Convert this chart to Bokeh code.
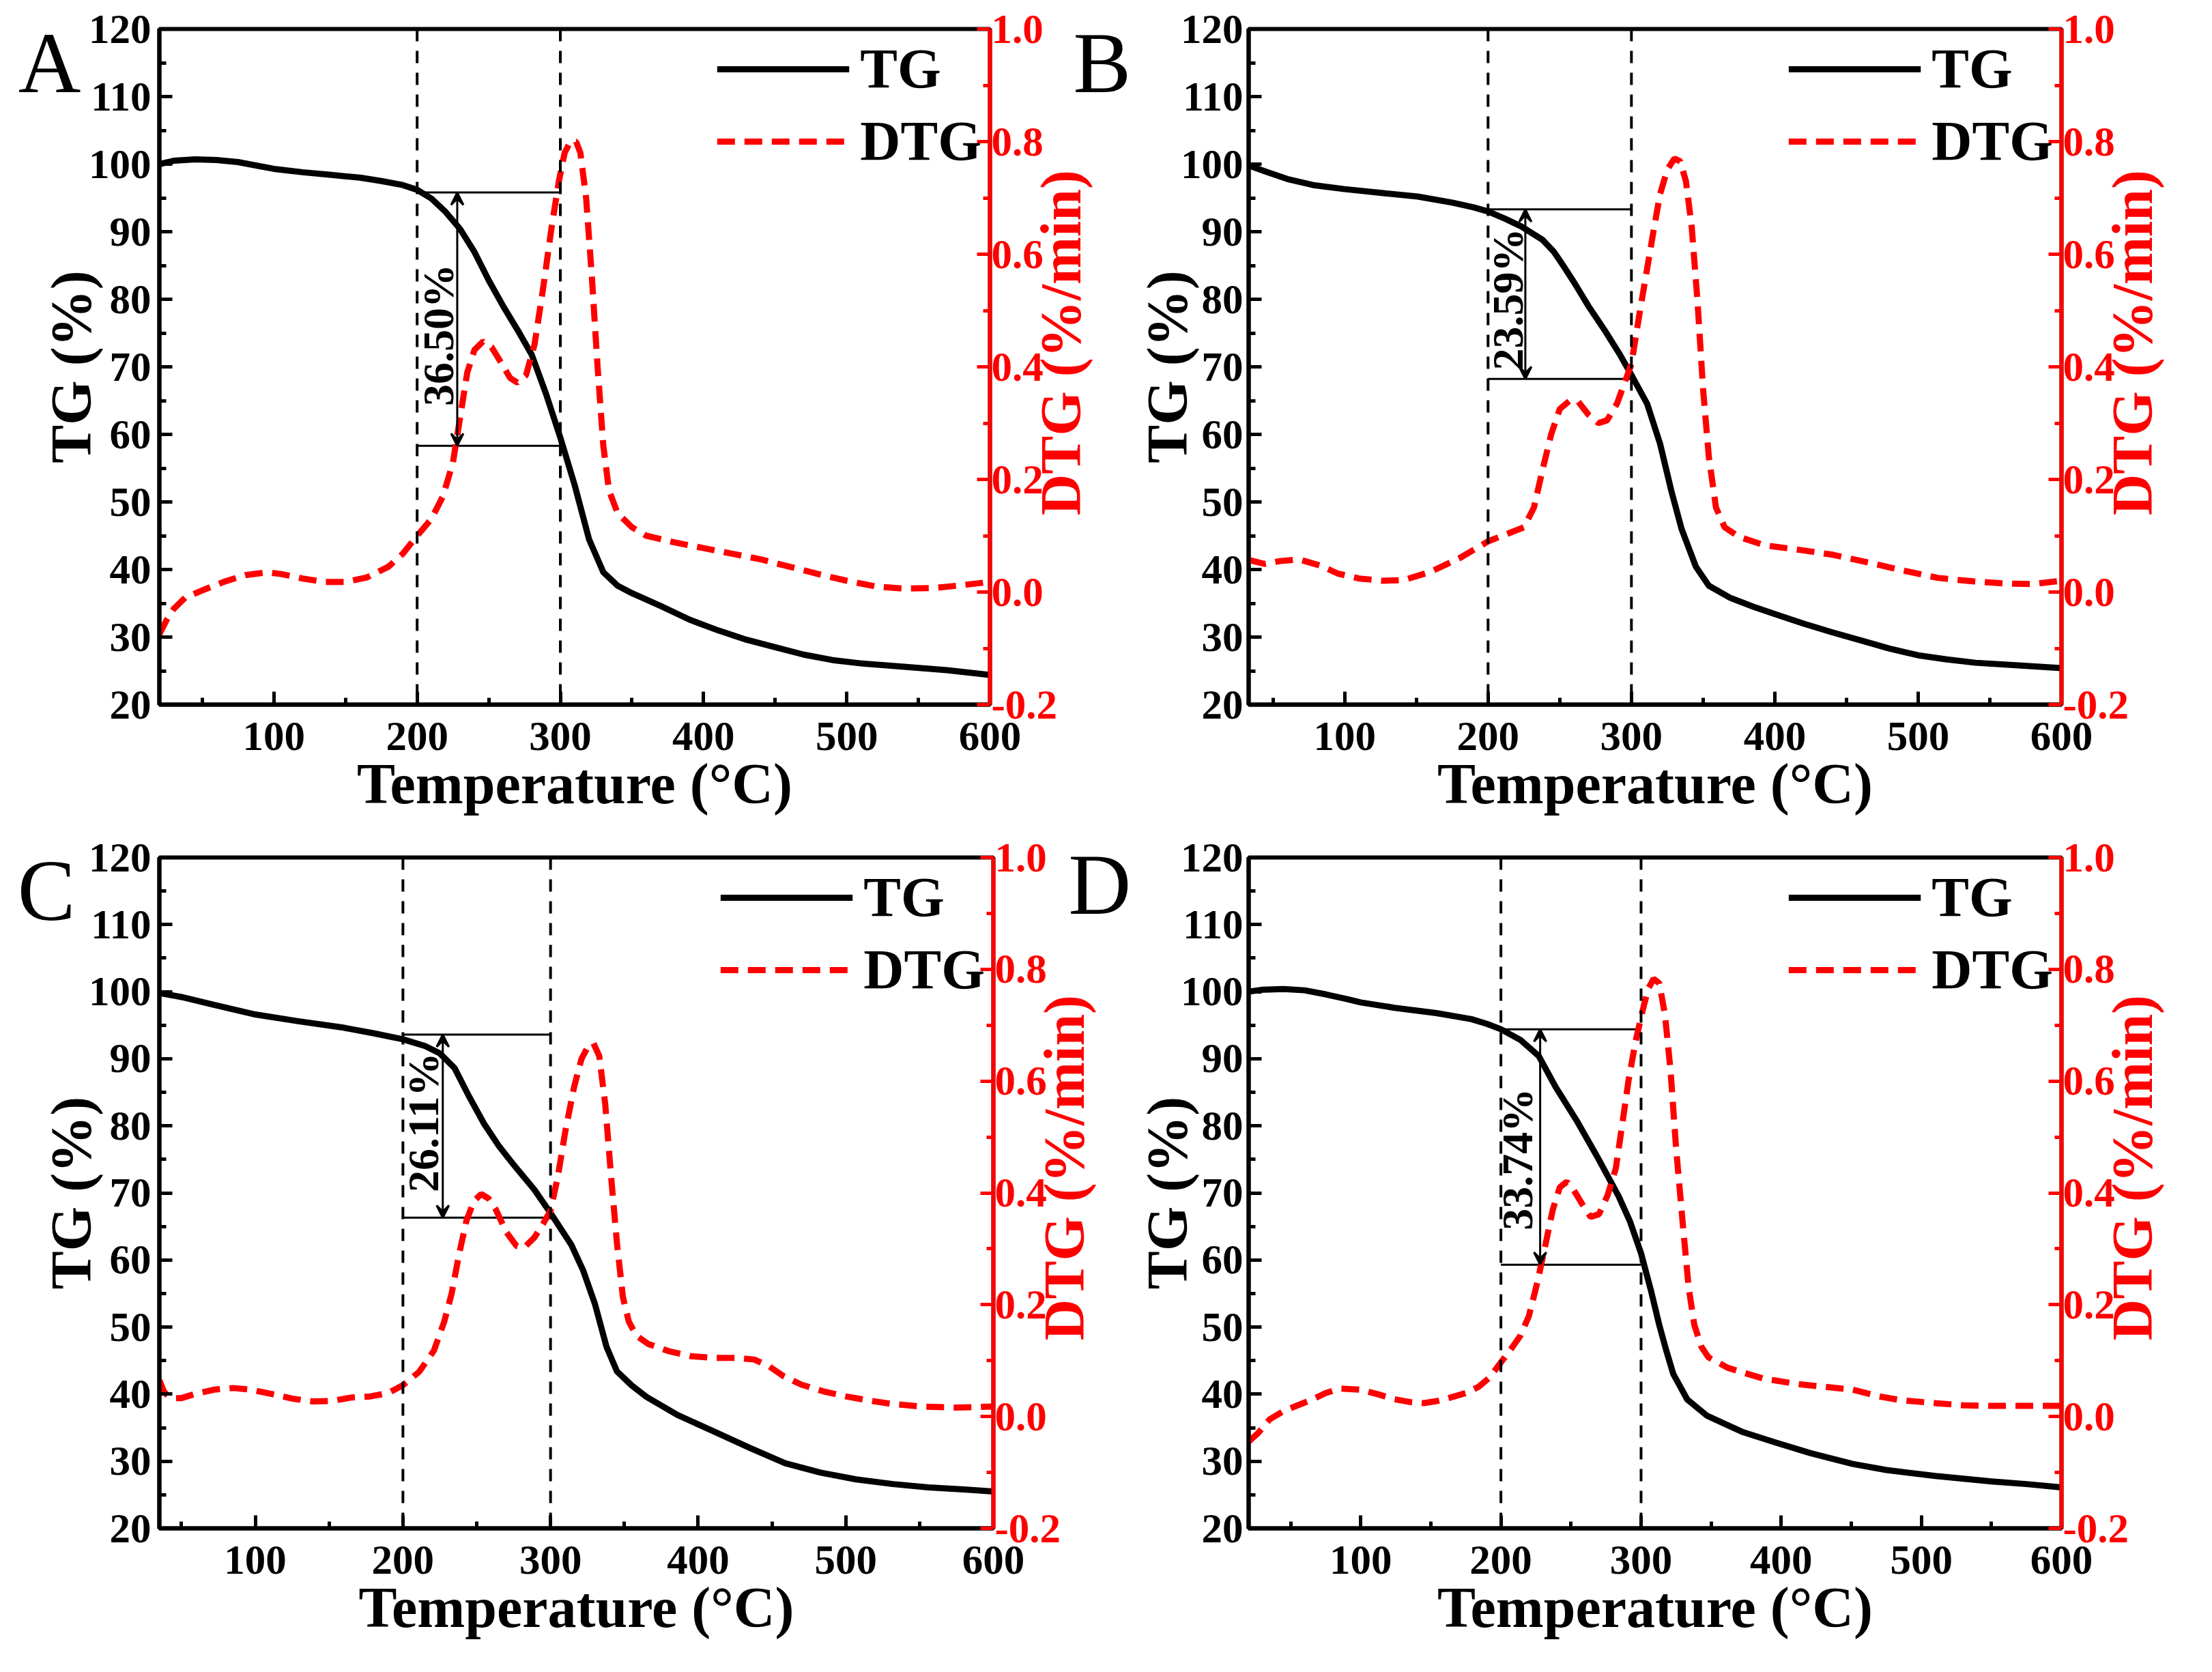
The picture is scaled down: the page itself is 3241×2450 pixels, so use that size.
import math
from bokeh.plotting import figure
from bokeh.models import (Range1d, LinearAxis, FixedTicker, PrintfTickFormatter, Span,
                          Arrow, VeeHead, Legend, LegendItem)
from bokeh.layouts import column, row
from bokeh.embed import file_html
from bokeh.resources import INLINE
from bokeh.core.properties import value

FONT = "Liberation Serif"
RED = "#FF0000"

# ---------------- data ----------------
x_ticks = [100, 200, 300, 400, 500, 600]
x_minor = [50, 150, 250, 350, 450, 550]
tg_ticks = [20, 30, 40, 50, 60, 70, 80, 90, 100, 110, 120]
tg_minor = [25, 35, 45, 55, 65, 75, 85, 95, 105, 115]
dtg_ticks = [-0.2, 0.0, 0.2, 0.4, 0.6, 0.8, 1.0]
dtg_minor = [-0.1, 0.1, 0.3, 0.5, 0.7, 0.9]
region = [200, 300]

panels = ["A", "B", "C", "D"]
x_start = [20, 33, 35, 20]
step_upper = [95.8, 93.3, 93.6, 94.4]
step_lower = [58.3, 68.2, 66.3, 59.3]
arrow_x = [228, 226, 227, 228]
loss_text = ["36.50%", "23.59%", "26.11%", "33.74%"]
loss_x = [215, 214, 214, 212]
loss_y = [74.7, 80.0, 80.5, 75.0]

tA_tg = [20, 30, 45, 60, 75, 90, 100, 120, 140, 160, 175, 190, 200, 210, 220, 230, 240, 250, 260, 270,
         280, 290, 300, 310, 320, 330, 340, 350, 370, 390, 410, 430, 450, 470, 490, 510, 540, 570, 600]
tgA = [100.0, 100.5, 100.7, 100.6, 100.3, 99.7, 99.3, 98.8, 98.4, 98.0, 97.5, 96.9, 96.2, 94.9, 92.9,
       90.4, 87.0, 82.8, 79.0, 75.5, 71.8, 66.0, 59.5, 52.5, 44.5, 39.6, 37.6, 36.5, 34.6, 32.6, 31.0,
       29.6, 28.5, 27.4, 26.6, 26.1, 25.6, 25.1, 24.4]
tA_dtg = [20, 25, 30, 38, 50, 65, 80, 95, 105, 120, 135, 150, 165, 180, 190, 200, 210, 218, 225, 230,
          235, 240, 246, 252, 258, 265, 270, 276, 282, 288, 294, 299, 303, 307, 311, 314, 318, 322, 326,
          330, 334, 340, 350, 360, 380, 400, 420, 440, 460, 480, 500, 520, 540, 560, 580, 600]
dtgA = [-0.075, -0.05, -0.03, -0.01, 0.003, 0.018, 0.03, 0.035, 0.032, 0.024, 0.018, 0.018, 0.026, 0.045,
        0.068, 0.1, 0.13, 0.17, 0.23, 0.31, 0.39, 0.43, 0.445, 0.435, 0.41, 0.38, 0.372, 0.385, 0.44,
        0.54, 0.65, 0.73, 0.78, 0.80, 0.80, 0.78, 0.70, 0.56, 0.40, 0.26, 0.18, 0.14, 0.115, 0.10, 0.088,
        0.078, 0.068, 0.058, 0.045, 0.032, 0.02, 0.01, 0.006, 0.007, 0.012, 0.018]

tB_tg = [33, 45, 60, 78, 100, 127, 151, 175, 190, 200, 212, 223, 238, 246, 253, 260, 270, 282, 292, 300,
         311, 320, 328, 335, 345, 354, 369, 385, 400, 420, 440, 460, 480, 500, 520, 540, 570, 600]
tgB = [99.8, 98.9, 97.8, 96.9, 96.3, 95.7, 95.2, 94.3, 93.6, 93.0, 91.9, 90.8, 88.8, 87.0, 84.8, 82.5,
       79.0, 75.2, 71.8, 68.8, 64.5, 58.6, 51.5, 46.0, 40.4, 37.6, 35.8, 34.5, 33.4, 32.0, 30.7, 29.5,
       28.3, 27.3, 26.7, 26.2, 25.8, 25.4]
tB_dtg = [33, 44, 55, 68, 83, 95, 110, 127, 141, 160, 180, 200, 214, 225, 232, 238, 244, 250, 257, 263,
          270, 277, 283, 290, 300, 306, 311, 316, 320, 325, 330, 334, 338, 342, 346, 350, 354, 359, 365,
          375, 393, 417, 441, 466, 490, 514, 538, 562, 580, 600]
dtgB = [0.057, 0.05, 0.055, 0.058, 0.047, 0.033, 0.024, 0.02, 0.021, 0.036, 0.06, 0.09, 0.104, 0.115,
        0.15, 0.217, 0.28, 0.325, 0.34, 0.338, 0.315, 0.30, 0.305, 0.335, 0.405, 0.5, 0.575, 0.65, 0.707,
        0.75, 0.77, 0.765, 0.73, 0.65, 0.52, 0.36, 0.24, 0.15, 0.115, 0.098, 0.083, 0.075, 0.066, 0.052,
        0.038, 0.025, 0.019, 0.015, 0.014, 0.02]

tC_tg = [35, 50, 71, 100, 129, 158, 180, 200, 215, 225, 235, 245, 255, 265, 275, 289, 300, 314, 322, 330,
         338, 345, 355, 365, 386, 411, 435, 459, 483, 507, 532, 556, 580, 600]
tgC = [99.8, 99.2, 98.1, 96.6, 95.6, 94.7, 93.8, 92.9, 91.9, 90.8, 88.6, 84.3, 80.3, 77.0, 74.2, 70.5,
       67.0, 62.3, 58.5, 53.5, 47.0, 43.4, 41.3, 39.6, 36.9, 34.4, 32.0, 29.7, 28.3, 27.3, 26.6, 26.1,
       25.8, 25.5]
tC_dtg = [35, 38, 42, 50, 60, 72, 85, 97, 110, 125, 139, 152, 165, 178, 190, 200, 211, 221, 228, 233,
          238, 243, 248, 253, 258, 263, 270, 277, 282, 289, 295, 300, 305, 310, 316, 321, 325, 329, 333,
          337, 341, 345, 349, 353, 358, 366, 380, 395, 410, 425, 438, 448, 458, 470, 485, 500, 515, 530,
          550, 575, 600]
dtgC = [0.065, 0.045, 0.033, 0.033, 0.041, 0.048, 0.051, 0.048, 0.041, 0.032, 0.027, 0.028, 0.034, 0.036,
        0.042, 0.056, 0.08, 0.118, 0.17, 0.22, 0.29, 0.35, 0.385, 0.398, 0.39, 0.37, 0.33, 0.305, 0.302,
        0.32, 0.345, 0.368, 0.43, 0.51, 0.59, 0.64, 0.66, 0.668, 0.645, 0.56, 0.43, 0.31, 0.214, 0.17,
        0.145, 0.13, 0.117, 0.108, 0.105, 0.105, 0.102, 0.09, 0.072, 0.057, 0.045, 0.036, 0.029, 0.023,
        0.018, 0.016, 0.018]

tD_tg = [20, 30, 45, 60, 75, 90, 100, 124, 154, 179, 190, 200, 214, 227, 239, 254, 269, 284, 292, 300,
         307, 313, 318, 323, 333, 347, 372, 396, 421, 451, 475, 510, 550, 575, 600]
tgD = [100.0, 100.3, 100.4, 100.2, 99.6, 98.9, 98.4, 97.6, 96.8, 95.9, 95.2, 94.4, 92.8, 90.4, 85.8,
       80.8, 75.3, 69.5, 65.8, 61.0, 55.5, 50.3, 46.5, 43.0, 39.2, 36.8, 34.4, 32.8, 31.2, 29.6, 28.7,
       27.8, 27.0, 26.6, 26.1]
tD_dtg = [20, 27, 35, 45, 55, 65, 75, 85, 100, 112, 124, 135, 145, 155, 164, 175, 184, 192, 200, 207,
          214, 220, 226, 232, 237, 242, 247, 252, 258, 264, 270, 276, 282, 287, 291, 296, 301, 305, 309,
          313, 317, 321, 325, 330, 334, 338, 343, 348, 362, 387, 412, 451, 470, 486, 510, 530, 550, 575, 600]
dtgD = [-0.045, -0.029, -0.005, 0.01, 0.02, 0.03, 0.042, 0.05, 0.048, 0.04, 0.031, 0.026, 0.024, 0.028,
        0.034, 0.042, 0.053, 0.07, 0.097, 0.12, 0.145, 0.18, 0.24, 0.31, 0.37, 0.41, 0.42, 0.405, 0.38,
        0.357, 0.362, 0.395, 0.444, 0.53, 0.6, 0.67, 0.725, 0.765, 0.783, 0.775, 0.72, 0.62, 0.48, 0.338,
        0.23, 0.164, 0.125, 0.106, 0.087, 0.068, 0.058, 0.048, 0.036, 0.029, 0.024, 0.02, 0.019, 0.019,
        0.019]

tg_series = [(tA_tg, tgA), (tB_tg, tgB), (tC_tg, tgC), (tD_tg, tgD)]
dtg_series = [(tA_dtg, dtgA), (tB_dtg, dtgB), (tC_dtg, dtgC), (tD_dtg, dtgD)]

# ---------------- layout (pixels) ----------------
# width, height, border left, right, top, bottom, tick-label standoff, TG title standoff
geom = [
    (1660, 1220, 233, 205, 42, 188, 12, -24),
    (1565, 1220, 160, 205, 42, 188, 8, -30),
    (1660, 1207, 233, 205, 36, 188, 12, -24),
    (1565, 1207, 160, 205, 36, 188, 8, -30),
]
# panel letters: (host figure, side, TG-level of the letter, label standoff)
letter_place = [(0, "left", 115, -64), (0, "right", 115, -78),
                (2, "left", 118, -56), (2, "right", 116, -90)]
DTG_TITLE_LEVEL = 48


def style_axis(ax, color):
    ax.axis_line_color = color
    ax.axis_line_width = 6
    ax.major_tick_line_color = color
    ax.major_tick_line_width = 5
    ax.minor_tick_line_color = color
    ax.minor_tick_line_width = 5
    ax.major_tick_in = 19
    ax.major_tick_out = 0
    ax.minor_tick_in = 10
    ax.minor_tick_out = 0
    ax.major_label_text_font = FONT
    ax.major_label_text_font_style = "bold"
    ax.major_label_text_font_size = "61px"
    ax.major_label_text_color = color
    ax.major_label_text_line_height = 1.0
    ax.axis_label_text_font = FONT
    ax.axis_label_text_font_style = "bold"
    ax.axis_label_text_font_size = "84px"
    ax.axis_label_text_color = color


def text_axis(p, side, tick, text, size, style, color, standoff, orientation=None):
    """An axis without line or ticks that only carries one text at a given TG level."""
    ax = LinearAxis(ticker=FixedTicker(ticks=[tick], minor_ticks=[]),
                    major_label_overrides={tick: text})
    ax.axis_line_color = None
    ax.major_tick_line_color = None
    ax.minor_tick_line_color = None
    ax.major_tick_in = 0
    ax.major_tick_out = 0
    ax.minor_tick_in = 0
    ax.minor_tick_out = 0
    ax.major_label_text_font = FONT
    ax.major_label_text_font_size = size
    ax.major_label_text_font_style = style
    ax.major_label_text_color = color
    ax.major_label_text_line_height = 1.0
    ax.major_label_standoff = standoff
    if orientation is not None:
        ax.major_label_orientation = orientation
    p.add_layout(ax, side)
    return ax


def make_panel(i):
    w, h, bl, br, bt, bb, tick_so, title_so = geom[i]
    x0 = x_start[i]
    p = figure(width=w, height=h, x_range=Range1d(x0, 600), y_range=Range1d(20, 120),
               output_backend="svg", toolbar_location=None,
               min_border_left=bl, min_border_right=br, min_border_top=bt, min_border_bottom=bb)
    p.extra_y_ranges = {"dtg": Range1d(-0.2, 1.0)}
    p.xgrid.visible = False
    p.ygrid.visible = False
    p.background_fill_color = "white"
    p.border_fill_color = "white"
    p.outline_line_color = "black"
    p.outline_line_width = 6

    xa = p.xaxis[0]
    xa.ticker = FixedTicker(ticks=x_ticks, minor_ticks=x_minor)
    xa.axis_label = "Temperature (°C)"
    style_axis(xa, "black")
    xa.axis_label_text_line_height = 1.0
    xa.major_label_standoff = 26
    xa.axis_label_standoff = 0

    ya = p.yaxis[0]
    ya.ticker = FixedTicker(ticks=tg_ticks, minor_ticks=tg_minor)
    ya.axis_label = "TG (%)"
    style_axis(ya, "black")
    ya.major_label_standoff = tick_so
    ya.axis_label_standoff = title_so

    ra = LinearAxis(y_range_name="dtg", ticker=FixedTicker(ticks=dtg_ticks, minor_ticks=dtg_minor),
                    formatter=PrintfTickFormatter(format="%.1f"))
    style_axis(ra, RED)
    ra.major_label_standoff = 2
    p.add_layout(ra, "right")
    # right axis title, reading bottom to top as in the original
    text_axis(p, "right", DTG_TITLE_LEVEL, "DTG (%/min)", "84px", "bold", RED, 2,
              orientation=math.pi / 2)

    for loc in region:
        p.add_layout(Span(location=loc, dimension="height", line_color="black",
                          line_width=4, line_dash="18 14"))

    # step lines and arrow
    p.segment(x0=[region[0], region[0]], x1=[region[1], region[1]],
              y0=[step_upper[i], step_lower[i]], y1=[step_upper[i], step_lower[i]],
              line_color="black", line_width=3)
    p.add_layout(Arrow(x_start=arrow_x[i], y_start=step_upper[i], x_end=arrow_x[i], y_end=step_lower[i],
                       line_color="black", line_width=3,
                       start=VeeHead(size=18, line_color="black", line_width=3),
                       end=VeeHead(size=18, line_color="black", line_width=3)))
    p.text(x=[loss_x[i]], y=[loss_y[i]], text=[loss_text[i]], angle=math.pi / 2,
           text_font=value(FONT), text_font_style="bold", text_font_size="64px",
           text_align="center", text_baseline="middle", text_color="black")

    tx, ty = tg_series[i]
    dx, dy = dtg_series[i]
    r_tg = p.line(tx, ty, line_color="black", line_width=9, line_join="round")
    r_dtg = p.line(dx, dy, line_color=RED, line_width=9, line_dash="26 14", y_range_name="dtg")

    legend = Legend(items=[LegendItem(label="TG", renderers=[r_tg]),
                           LegendItem(label="DTG", renderers=[r_dtg])],
                    location="top_right", orientation="vertical",
                    label_text_font=FONT, label_text_font_style="bold", label_text_font_size="82px",
                    label_text_color="black",
                    glyph_width=194, glyph_height=80, label_height=80, label_standoff=16,
                    spacing=12, padding=0, margin=12, border_line_color=None,
                    background_fill_alpha=0)
    p.add_layout(legend)
    return p


figs = [make_panel(i) for i in range(4)]

for k, (host, side, level, standoff) in enumerate(letter_place):
    text_axis(figs[host], side, level, panels[k], "127px", "normal", "black", standoff)

layout = column(row(figs[0], figs[1]), row(figs[2], figs[3]))

with open("out.html", "w") as f:
    f.write(file_html(layout, INLINE, title="TG DTG"))
